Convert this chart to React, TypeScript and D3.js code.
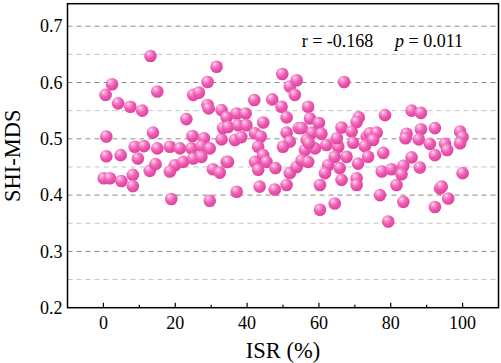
import React from "react";
import * as d3 from "d3";

const isr: number[] = [
  13.1, 2.4, 0.6, 4.1, 7.5, 10.8, 15.0, 0.8, 13.8, 0.8, 4.8, 8.7, 11.3, 9.6, 15.0, 0.1, 1.8, 5.0, 8.2, 8.2, 12.9, 14.5,
  31.5, 29.0, 25.0, 26.6, 29.0, 29.3, 32.9, 34.3, 23.1, 24.8, 28.0, 32.9, 33.3, 18.5, 21.3, 24.5, 27.3, 29.6, 19.9, 18.5,
  22.2, 25.0, 27.3, 30.5, 32.4, 34.3, 18.9, 29.6,
  49.8, 51.9, 53.8, 53.3, 42.0, 47.0, 49.6, 51.0, 37.1, 39.6, 34.7, 37.5, 39.8, 44.5, 42.2, 43.8, 36.6, 38.4, 51.0, 51.9,
  50.0, 54.4, 43.1, 44.5, 42.2, 45.4, 43.1, 47.9, 34.7, 51.9, 53.8, 51.0, 47.7, 43.5, 37.1,
  67.0, 57.0, 71.1, 70.5, 66.3, 57.5, 60.0, 55.2, 58.1, 60.7, 69.1, 73.3, 56.6, 62.1, 65.4, 69.5, 72.8, 56.1, 58.9, 67.7,
  64.4, 55.2, 57.0, 70.9, 62.6, 65.8, 61.7, 66.3, 70.5, 70.5, 60.3, 64.4, 60.3, 65.0, 57.2,
  78.4, 85.8, 88.4, 74.2, 76.1, 75.1, 84.4, 84.1, 88.4, 87.8, 92.3, 90.9, 92.3, 73.7, 77.9, 85.8, 88.1, 77.5, 80.2, 83.5,
  83.0, 81.6, 77.0, 83.5, 93.7, 92.3, 79.3, 95.1, 95.7, 99.3, 100.0, 99.3, 100.0, 94.2, 96.0,
];

const shiMds: number[] = [
  0.647, 0.597, 0.578, 0.563, 0.557, 0.55, 0.584, 0.504, 0.511, 0.469, 0.471, 0.486, 0.487, 0.465, 0.483, 0.43, 0.43, 0.425, 0.436, 0.416, 0.443, 0.455,
  0.628, 0.601, 0.578, 0.582, 0.56, 0.554, 0.551, 0.538, 0.535, 0.505, 0.501, 0.499, 0.519, 0.486, 0.483, 0.483, 0.487, 0.483, 0.453, 0.442,
  0.459, 0.465, 0.468, 0.446, 0.44, 0.459, 0.393, 0.39,
  0.615, 0.593, 0.604, 0.578, 0.569, 0.57, 0.557, 0.538, 0.545, 0.545, 0.521, 0.524, 0.524, 0.529, 0.51, 0.504, 0.498, 0.503, 0.511, 0.495,
  0.486, 0.519, 0.486, 0.471, 0.459, 0.459, 0.445, 0.448, 0.459, 0.439, 0.45, 0.418, 0.41, 0.415, 0.406,
  0.601, 0.557, 0.538, 0.53, 0.52, 0.536, 0.528, 0.519, 0.511, 0.509, 0.513, 0.504, 0.498, 0.489, 0.486, 0.493, 0.487, 0.48, 0.483, 0.468,
  0.468, 0.462, 0.459, 0.456, 0.453, 0.448, 0.439, 0.427, 0.43, 0.418, 0.418, 0.385, 0.374, 0.501, 0.492,
  0.542, 0.55, 0.546, 0.51, 0.511, 0.498, 0.509, 0.501, 0.517, 0.499, 0.519, 0.491, 0.471, 0.468, 0.475, 0.467, 0.449, 0.442, 0.446, 0.452,
  0.437, 0.418, 0.4, 0.388, 0.412, 0.379, 0.353, 0.491, 0.48, 0.513, 0.503, 0.492, 0.439, 0.415, 0.394,
];

const xTicks: number[] = [0, 20, 40, 60, 80, 100];
const xMinorTicks: number[] = [10, 30, 50, 70, 90];
const yTicks: number[] = [0.2, 0.3, 0.4, 0.5, 0.6, 0.7];
const yMinorGrid: number[] = [0.25, 0.35, 0.45, 0.55, 0.65];
const xLabel = "ISR (%)";
const yLabel = "SHI-MDS";
const rText = "r = -0.168";
const pValue = "= 0.011";

const W = 501;
const H = 363;
const L = 67.5;
const R = 498.5;
const T = 3.7;
const B = 307.7;
const font = "'Liberation Serif', 'Times New Roman', serif";

export default function App() {
  const x = d3.scaleLinear().domain([-10, 110]).range([L, R]);
  const y = d3.scaleLinear().domain([0.2, 0.74]).range([B, T]);
  const pts = isr.map((v, i) => ({ x: v, y: shiMds[i] }));

  return (
    <svg
      width={W}
      height={H}
      style={{ position: "absolute", left: 0, top: 0, background: "#fff" }}
      fontFamily={font}
    >
      <defs>
        <radialGradient id="ball" cx="0.38" cy="0.32" r="0.7" fx="0.34" fy="0.28">
          <stop offset="0%" stopColor="#ffe6f4" />
          <stop offset="18%" stopColor="#f9a4d6" />
          <stop offset="55%" stopColor="#ee5cb4" />
          <stop offset="100%" stopColor="#df3f9c" />
        </radialGradient>
      </defs>
      <rect x={0} y={0} width={W} height={H} fill="#fff" />
      {yMinorGrid.map((v) => (
        <line key={"m" + v} x1={L} x2={R} y1={y(v)} y2={y(v)} stroke="#c4c4c4" strokeWidth={1} strokeDasharray="5,4" />
      ))}
      {yTicks.filter((v) => v > 0.2).map((v) => (
        <line key={"g" + v} x1={L} x2={R} y1={y(v)} y2={y(v)} stroke="#8a8a8a" strokeWidth={1} strokeDasharray="5,4" />
      ))}
      {pts.map((p, i) => (
        <circle key={i} cx={x(p.x)} cy={y(p.y)} r={6.3} fill="url(#ball)" />
      ))}
      <rect x={L} y={T} width={R - L} height={B - T} fill="none" stroke="#000" strokeWidth={1.5} />
      {xTicks.map((v) => (
        <line key={"xt" + v} x1={x(v)} x2={x(v)} y1={B} y2={B - 5} stroke="#000" strokeWidth={1.2} />
      ))}
      {xMinorTicks.map((v) => (
        <line key={"xm" + v} x1={x(v)} x2={x(v)} y1={B} y2={B - 3} stroke="#000" strokeWidth={1.2} />
      ))}
      {xTicks.map((v) => (
        <text key={"xl" + v} x={x(v)} y={328.5} textAnchor="middle" fontSize={18} fill="#000">
          {v}
        </text>
      ))}
      {yTicks.map((v) => (
        <text key={"yl" + v} x={L - 5} y={y(v)} dy="0.34em" textAnchor="end" fontSize={18} fill="#000">
          {v.toFixed(1)}
        </text>
      ))}
      <text x={(L + R) / 2} y={358} textAnchor="middle" fontSize={22.5} fill="#000">
        {xLabel}
      </text>
      <text
        transform={`translate(20, ${(T + B) / 2}) rotate(-90)`}
        textAnchor="middle"
        fontSize={22.5}
        fill="#000"
      >
        {yLabel}
      </text>
      <text x={301.7} y={46.7} fontSize={18} fill="#000">
        {rText}
      </text>
      <text x={395} y={46.7} fontSize={18} fill="#000">
        <tspan fontStyle="italic">p</tspan>
        <tspan> {pValue}</tspan>
      </text>
    </svg>
  );
}
